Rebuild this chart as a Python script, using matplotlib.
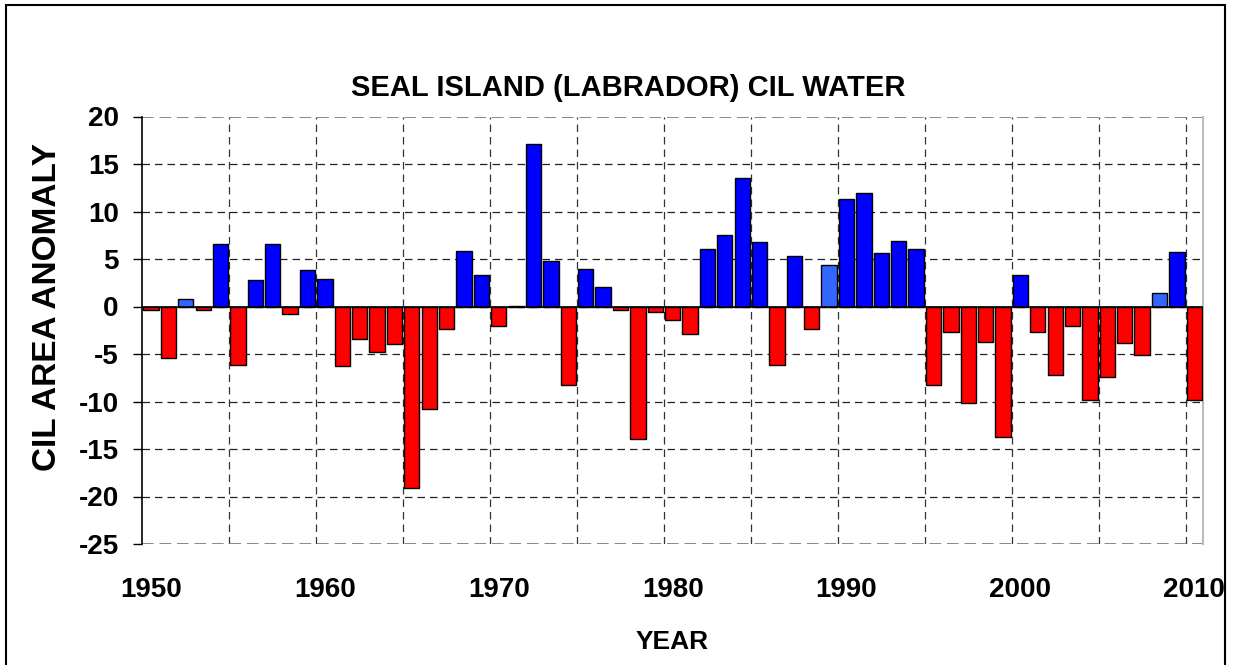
import numpy as np
import matplotlib
matplotlib.use("Agg")
import matplotlib.pyplot as plt
from matplotlib.patches import Rectangle

plt.rcParams["font.family"] = ["Liberation Sans", "DejaVu Sans"]
plt.rcParams["font.weight"] = "bold"
plt.rcParams["axes.unicode_minus"] = False

# anomalias, una por anio 1950-2010
anios = np.arange(1950, 2011)
anomalia = [
    -0.4, -5.4, 0.8, -0.4, 6.6, -6.2, 2.8, 6.6, -0.8, 3.8,
    2.9, -6.3, -3.4, -4.8, -3.9, -19.1, -10.8, -2.4, 5.8, 3.3,
    -2.1, 0.1, 17.1, 4.8, -8.3, 4.0, 2.1, -0.4, -13.9, -0.6,
    -1.4, -2.9, 6.1, 7.5, 13.5, 6.8, -6.2, 5.3, -2.4, 4.4,
    11.3, 12.0, 5.6, 6.9, 6.1, -8.3, -2.7, -10.2, -3.7, -13.7,
    3.3, -2.7, -7.2, -2.1, -9.8, -7.4, -3.8, -5.1, 1.4, 5.7,
    -9.8,
]
# anios con barra azul claro
anios_claros = [1952, 1989, 2008]

colores = []
for a, v in zip(anios, anomalia):
    if v < 0:
        colores.append("#FF0000")
    elif a in anios_claros:
        colores.append("#3366FF")
    else:
        colores.append("#0000FF")

W, H = 1239, 665
fig = plt.figure(figsize=(W / 100, H / 100), dpi=100)

# marco exterior
fig.patches.append(Rectangle((6 / W, -0.01), 1219 / W, (665 - 5) / H + 0.01,
                             transform=fig.transFigure, fill=False,
                             edgecolor="black", linewidth=1.5))

x0, x1 = 142.3, 1203.0
y_top, y_bot = 116.5, 544.0
ax = fig.add_axes([x0 / W, (H - y_bot) / H, (x1 - x0) / W, (y_bot - y_top) / H])

ax.bar(anios + 0.5, anomalia, width=0.88, color=colores,
       edgecolor="black", linewidth=1.0, zorder=3)

ax.set_xlim(1950, 2011)
ax.set_ylim(-25, 20)

# rejilla discontinua
for g in range(1955, 2011, 5):
    ax.axvline(g, color="#333333", linestyle=(0, (6, 4)), linewidth=0.9, zorder=1)
for g in range(-20, 20, 5):
    ax.axhline(g, color="#222222", linestyle=(0, (6, 4)), linewidth=0.9, zorder=1)
ax.axhline(20, color="#888888", linestyle=(0, (6, 3)), linewidth=1.4, zorder=1)
ax.axhline(-25, color="#888888", linestyle=(0, (6, 3)), linewidth=1.4, zorder=1)
ax.axhline(0, color="black", linewidth=1.2, zorder=4)

for s in ["top", "bottom"]:
    ax.spines[s].set_visible(False)
ax.spines["right"].set_color("#BBBBBB")
ax.spines["right"].set_linewidth(1.5)
ax.spines["left"].set_color("black")
ax.spines["left"].set_linewidth(1.2)

# pads y largos en puntos (dpi 100 -> 0.72 pt por pixel)
ax.set_yticks(np.arange(-25, 21, 5))
ax.tick_params(axis="y", direction="out", length=6.5, width=1, pad=10.5, labelsize=20)
ax.set_xticks(np.arange(1950, 2011, 10) + 0.5)
ax.set_xticklabels([str(a) for a in range(1950, 2011, 10)])
ax.tick_params(axis="x", length=0, pad=24, labelsize=20)
for t in ax.get_yticklabels() + ax.get_xticklabels():
    t.set_fontweight("bold")

fig.text(628 / W, 1 - 88 / H, "SEAL ISLAND (LABRADOR) CIL WATER",
         ha="center", va="center", fontsize=21, fontweight="bold")
fig.text(672 / W, 1 - 642 / H, "YEAR", ha="center", va="center",
         fontsize=19, fontweight="bold")
fig.text(48 / W, 1 - 307 / H, "CIL AREA ANOMALY", ha="center", va="center",
         rotation=90, fontsize=24, fontweight="bold")

fig.savefig("out.png", dpi=100)
